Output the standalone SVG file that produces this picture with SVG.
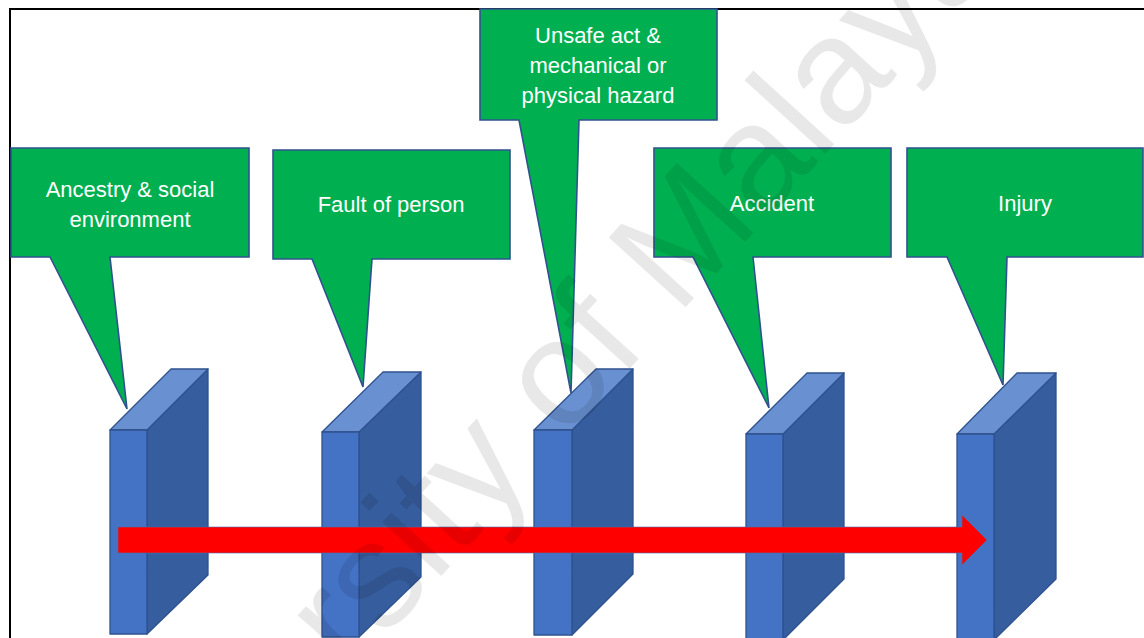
<svg xmlns="http://www.w3.org/2000/svg" width="1144" height="638" viewBox="0 0 1144 638">
<style>
.call{fill:#00B050;stroke:#2F528F;stroke-width:1.6;stroke-linejoin:miter}
.lbl{font-family:"Liberation Sans",Arial,sans-serif;font-size:22px;fill:#ffffff;text-anchor:middle}
.front{fill:#4472C4;stroke:#2F528F;stroke-width:1.3;stroke-linejoin:round}
.side{fill:#365D9E;stroke:#2F528F;stroke-width:1.3;stroke-linejoin:round}
.top{fill:#6990D0;stroke:#2F528F;stroke-width:1.3;stroke-linejoin:round}
.wm{font-family:"Liberation Sans",Arial,sans-serif;font-size:151px;fill:#000000;fill-opacity:0.09}
</style>
<rect x="0" y="0" width="1144" height="638" fill="#ffffff"/>
<rect x="10" y="9" width="1200" height="700" fill="none" stroke="#000000" stroke-width="2"/>

<g id="callout-ancestry">
<path class="call" d="M11,148 H249 V257 H110 L127,409 L50,257 H11 Z"/>
<text class="lbl" x="130" y="197">Ancestry &amp; social</text>
<text class="lbl" x="130" y="227">environment</text>
</g>
<g id="callout-fault">
<path class="call" d="M273,150 H510 V259 H372 L363,387 L312,259 H273 Z"/>
<text class="lbl" x="391" y="212">Fault of person</text>
</g>
<g id="callout-unsafe">
<path class="call" d="M480,9 H717 V120 H579 L571,393 L519,120 H480 Z"/>
<text class="lbl" x="598" y="43">Unsafe act &amp;</text>
<text class="lbl" x="598" y="73">mechanical or</text>
<text class="lbl" x="598" y="103">physical hazard</text>
</g>
<g id="callout-accident">
<path class="call" d="M654,148 H891 V257 H753 L769,408 L693,257 H654 Z"/>
<text class="lbl" x="772" y="211">Accident</text>
</g>
<g id="callout-injury">
<path class="call" d="M907,148 H1143 V257 H1007 L1003,385 L947,257 H907 Z"/>
<text class="lbl" x="1025" y="211">Injury</text>
</g>

<g id="block-1">
<polygon class="side" points="147,430 208,369 208,575 147,634"/>
<polygon class="top" points="110,430 171,369 208,369 147,430"/>
<rect class="front" x="110" y="430" width="37" height="204"/>
</g>
<g id="block-2">
<polygon class="side" points="359,432 421,372 421,577 359,637"/>
<polygon class="top" points="322,432 383,372 421,372 359,432"/>
<rect class="front" x="322" y="432" width="37" height="205"/>
</g>
<g id="block-3">
<polygon class="side" points="572,430 633,369 633,574 572,635"/>
<polygon class="top" points="534,430 596,369 633,369 572,430"/>
<rect class="front" x="534" y="430" width="38" height="205"/>
</g>
<g id="block-4">
<polygon class="side" points="783,434 844,373 844,579 783,640"/>
<polygon class="top" points="746,434 807,373 844,373 783,434"/>
<rect class="front" x="746" y="434" width="37" height="210"/>
</g>
<g id="block-5">
<polygon class="side" points="994,434 1056,373 1056,579 994,640"/>
<polygon class="top" points="957,434 1017,373 1056,373 994,434"/>
<rect class="front" x="957" y="434" width="37" height="210"/>
</g>

<g id="connectors">
<path d="M118,527 H962 V515 L987,540 L962,565 V553 H118 Z" fill="#FF0000" stroke="#4A6FB0" stroke-width="1" stroke-opacity="0.6"/>
</g>

<text class="wm" transform="translate(90,962) rotate(-47.7)">University of Malaya</text>
</svg>
